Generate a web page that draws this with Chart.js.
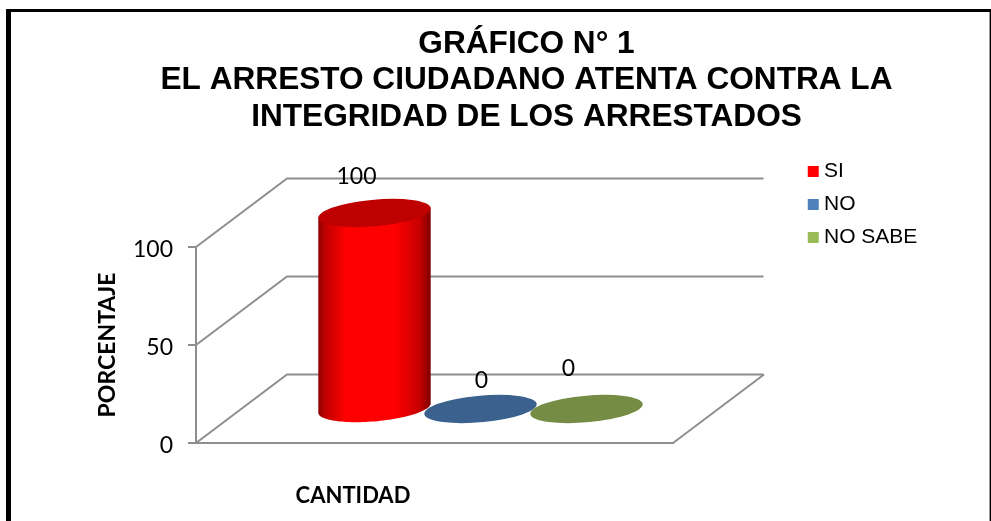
<!DOCTYPE html>
<html>
<head>
<meta charset="utf-8">
<style>html,body{margin:0;padding:0;background:#fff}canvas{display:block}</style>
<script src="https://cdn.jsdelivr.net/npm/chart.js@4"></script>
</head>
<body>
<canvas id="c" width="991" height="521"></canvas>
<script>
const categories = ['CANTIDAD'];
const seriesNames = ['SI', 'NO', 'NO SABE'];
const seriesColors = ['#ff0000', '#4f81bd', '#9bbb59'];
const siValues = [100];
const noValues = [0];
const noSabeValues = [0];
const yTickValues = [0, 50, 100];
const titleLines = ['GRÁFICO N° 1', 'EL ARRESTO CIUDADANO ATENTA CONTRA LA', 'INTEGRIDAD DE LOS ARRESTADOS'];

const GRAY = '#8e8e8e';
const DEPTH_X = 91, DEPTH_Y = 68.5;        // full depth of the floor
const BAR_DX = 46, BAR_DY = 34;            // where the bars stand in the depth
const DISC_DX = 18.7, DISC_DY = 14.2;      // half depth of a disc
const LABEL_SHIFT = [[-18, -36], [1, -28], [-18, -40]];

function shade(hex, f) {
  const n = parseInt(hex.slice(1), 16);
  return `rgb(${Math.round((n >> 16 & 255) * f)},${Math.round((n >> 8 & 255) * f)},${Math.round((n & 255) * f)})`;
}

function disc(ctx, cx, cy, a, fill) {
  ctx.save();
  ctx.beginPath();
  ctx.transform(a, 0, DISC_DX, -DISC_DY, cx, cy);
  ctx.arc(0, 0, 1, 0, Math.PI * 2);
  ctx.restore();
  ctx.fillStyle = fill;
  ctx.fill();
}

function cylinderSide(ctx, cx, yTop, yBase, a, color) {
  const t0 = Math.atan2(DISC_DX, a);
  const px = t => cx + a * Math.cos(t) + DISC_DX * Math.sin(t);
  const py = (t, y) => y - DISC_DY * Math.sin(t);
  const half = Math.hypot(a, DISC_DX);
  const g = ctx.createLinearGradient(cx - half, 0, cx + half, 0);
  g.addColorStop(0, shade(color, 0.55));
  g.addColorStop(0.06, shade(color, 0.75));
  g.addColorStop(0.25, shade(color, 1));
  g.addColorStop(0.68, shade(color, 1));
  g.addColorStop(0.9, shade(color, 0.78));
  g.addColorStop(1, shade(color, 0.5));
  ctx.beginPath();
  ctx.moveTo(px(t0), py(t0, yTop));
  for (let i = 0; i <= 60; i++) {
    const t = t0 - Math.PI * i / 60;
    ctx.lineTo(px(t), py(t, yBase));
  }
  ctx.lineTo(px(t0 - Math.PI), py(t0 - Math.PI, yTop));
  ctx.closePath();
  ctx.fillStyle = g;
  ctx.fill();
}

const scene = {
  id: 'scene',
  afterLayout(chart) {
    const t = chart.titleBlock;
    t.left = 63; t.right = 990;
    const x2 = chart.scales.x2;
    x2.left = 196; x2.right = 510;
    const l = chart.legend;
    l.left = 801; l.top = 149; l.right = 990; l.bottom = 320;
  },
  beforeDraw(chart) {
    const ctx = chart.ctx;
    ctx.fillStyle = '#000';
    ctx.fillRect(6, 9, 985, 3);
    ctx.fillRect(6, 9, 5, 512);
    ctx.fillRect(989.6, 9, 1.4, 512);
  },
  beforeDatasetsDraw(chart) {
    const ctx = chart.ctx, x = chart.scales.x, y = chart.scales.y;
    const x0 = x.left, x1 = x.right, b = y.bottom;
    ctx.save();
    ctx.strokeStyle = GRAY;
    ctx.lineWidth = 2;
    yTickValues.forEach(v => {
      const py = y.getPixelForValue(v);
      ctx.beginPath();
      ctx.moveTo(x0, py);
      ctx.lineTo(x0 + DEPTH_X, py - DEPTH_Y);
      ctx.lineTo(x1 + DEPTH_X - 0.5, py - DEPTH_Y);
      ctx.stroke();
    });
    ctx.beginPath();
    ctx.moveTo(x1, b);
    ctx.lineTo(x1 + DEPTH_X, b - DEPTH_Y);
    ctx.stroke();

    chart.data.datasets.forEach((ds, i) => {
      const el = chart.getDatasetMeta(i).data[0];
      const cx = el.x + BAR_DX, yb = el.base - BAR_DY, yt = el.y - BAR_DY, a = el.width / 2;
      if (yb - yt > 0.5) cylinderSide(ctx, cx, yt, yb, a, ds.backgroundColor);
      disc(ctx, cx, yt, a, shade(ds.backgroundColor, 0.75));
    });

    ctx.fillStyle = '#000';
    ctx.font = '23px Lato';
    ctx.textAlign = 'center';
    ctx.textBaseline = 'middle';
    chart.data.datasets.forEach((ds, i) => {
      const el = chart.getDatasetMeta(i).data[0];
      ctx.fillText(String(ds.data[0]), el.x + BAR_DX + LABEL_SHIFT[i][0], el.y - BAR_DY + LABEL_SHIFT[i][1]);
    });
    ctx.restore();
    return false;
  }
};

new Chart(document.getElementById('c'), {
  type: 'bar',
  data: {
    labels: categories,
    datasets: [
      { label: seriesNames[0], data: siValues, backgroundColor: seriesColors[0] },
      { label: seriesNames[1], data: noValues, backgroundColor: seriesColors[1] },
      { label: seriesNames[2], data: noSabeValues, backgroundColor: seriesColors[2] }
    ]
  },
  plugins: [scene],
  options: {
    responsive: false,
    animation: false,
    categoryPercentage: 0.6667,
    barPercentage: 1,
    layout: { padding: { left: 94, right: 318, top: 26, bottom: 0 } },
    plugins: {
      tooltip: { enabled: false },
      title: {
        display: true,
        text: titleLines,
        color: '#000',
        padding: { top: 0, bottom: 111.5 },
        font: { family: '"Liberation Sans"', size: 31.6, weight: 'bold', lineHeight: 36.5 / 31.6 }
      },
      legend: {
        position: 'chartArea',
        align: 'start',
        labels: {
          color: '#000',
          font: { family: '"Liberation Sans"', size: 21 },
          usePointStyle: true,
          pointStyle: 'rect',
          boxWidth: 0.5,
          boxHeight: 11,
          padding: 12
        }
      }
    },
    scales: {
      x: {
        position: 'bottom',
        grid: { display: false },
        border: { color: GRAY, width: 2 },
        ticks: { display: false },
        afterFit(s) { s.height = 0; }
      },
      x2: {
        type: 'category',
        position: 'bottom',
        grid: { display: false },
        border: { display: false },
        ticks: { display: false },
        title: {
          display: true,
          text: categories[0],
          color: '#000',
          padding: { top: 0, bottom: 12 },
          font: { family: 'Lato', size: 22, weight: 'bold' }
        },
        afterFit(s) { s.height = 78; }
      },
      y: {
        min: 0,
        max: 100,
        afterBuildTicks(s) { s.ticks = yTickValues.map(v => ({ value: v })); },
        grid: { drawOnChartArea: false, drawTicks: true, tickLength: 8, color: GRAY, tickColor: GRAY, lineWidth: 2 },
        border: { color: GRAY, width: 2 },
        ticks: { color: '#000', padding: 15, labelOffset: 3, font: { family: 'Lato', size: 23 } },
        title: {
          display: true,
          text: 'PORCENTAJE',
          color: '#000',
          padding: { top: 0, bottom: 0 },
          font: { family: 'Lato', size: 23, weight: 'bold' }
        },
        afterFit(s) { s.width = 102; }
      }
    }
  }
});
</script>
</body>
</html>
